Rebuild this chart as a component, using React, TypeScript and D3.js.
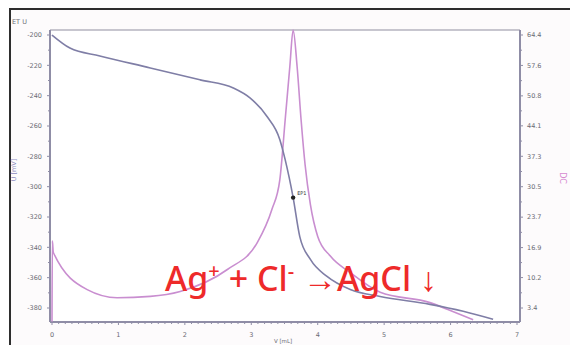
import React, { useEffect, useRef } from 'react';
import * as d3 from 'd3';

// titration volume (mL) vs potential (mV)
const volU = [0, 0.27, 0.72, 1.48, 2.23, 2.73, 2.98, 3.24, 3.43, 3.51, 3.63, 3.73, 3.89, 4.14, 4.49, 4.94, 5.69, 6.19, 6.64];
const potU = [-200, -208.6, -213.8, -221.7, -229.6, -234.9, -241.4, -253.9, -269, -282.2, -307.2, -332.9, -348, -359.2, -367.8, -372.4, -377.6, -382.2, -387.5];

// first derivative curve (DC)
const volDC = [0, 0.005, 0.02, 0.53, 0.98, 1.48, 1.93, 2.64, 3.09, 3.31, 3.43, 3.51, 3.58, 3.63, 3.69, 3.75, 3.81, 3.89, 4.0, 4.19, 4.49, 4.94, 5.69, 5.95, 6.34];
const valDC = [0.4, 18.4, 15.8, 7.5, 5.7, 6.0, 7.1, 12.0, 18.0, 25.4, 32.1, 45.4, 57.3, 65.5, 57.3, 45.4, 35.4, 26.5, 19.4, 15.0, 11.3, 6.9, 4.6, 3.1, 0.8];

const leftTicks = [-200, -220, -240, -260, -280, -300, -320, -340, -360, -380];
const rightTicks = [64.4, 57.6, 50.8, 44.1, 37.3, 30.5, 23.7, 16.9, 10.2, 3.4];
const xTicks = [0, 1, 2, 3, 4, 5, 6, 7];
const endPoint = { vol: 3.63, pot: -307.2, label: 'EP1' };

export default function App() {
  const svgRef = useRef<SVGSVGElement>(null);

  useEffect(() => {
    if (!svgRef.current) return;
    const svg = d3.select(svgRef.current);
    svg.selectAll('*').remove();

    const W = 570, H = 345;
    const left = 50, right = 520, top = 30, bottom = 322;

    const x = d3.scaleLinear().domain([0, 7]).range([52, 517]);
    const yL = d3.scaleLinear().domain([-200, -380]).range([35, 308]);
    const yR = d3.scaleLinear().domain([64.4, 3.4]).range([35, 308]);

    svg.attr('width', W).attr('height', H);

    // outer frame
    svg.append('rect')
      .attr('x', 10).attr('y', 9)
      .attr('width', 600).attr('height', 400)
      .attr('fill', '#fdfbfc')
      .attr('stroke', '#2e2e2e')
      .attr('stroke-width', 2);

    svg.append('rect')
      .attr('x', left).attr('y', top)
      .attr('width', right - left).attr('height', bottom - top)
      .attr('fill', '#ffffff');

    const tickCol = '#8f8da6';
    const labelStyle = (sel: any) => sel
      .attr('font-family', 'DejaVu Sans, sans-serif')
      .attr('font-size', 6.5)
      .attr('fill', '#6b6b74');

    // top frame line
    svg.append('line')
      .attr('x1', left).attr('x2', right)
      .attr('y1', top).attr('y2', top)
      .attr('stroke', '#b4b3bf').attr('stroke-width', 1.5);

    // left axis
    svg.append('line')
      .attr('x1', left).attr('x2', left).attr('y1', top).attr('y2', bottom)
      .attr('stroke', tickCol).attr('stroke-width', 2);
    d3.range(-200, -390, -10).forEach((v) => {
      const major = v % 20 === 0;
      svg.append('line')
        .attr('x1', left - (major ? 3 : 2)).attr('x2', left)
        .attr('y1', yL(v)).attr('y2', yL(v))
        .attr('stroke', tickCol).attr('stroke-width', 1);
    });
    leftTicks.forEach((v) => {
      svg.append('text')
        .attr('x', 42).attr('y', yL(v) + 2.3)
        .attr('text-anchor', 'end')
        .text(String(v))
        .call(labelStyle);
    });

    // right axis
    svg.append('line')
      .attr('x1', right).attr('x2', right).attr('y1', top).attr('y2', bottom)
      .attr('stroke', tickCol).attr('stroke-width', 2);
    rightTicks.forEach((v, i) => {
      svg.append('line')
        .attr('x1', right).attr('x2', right + 3)
        .attr('y1', yR(v)).attr('y2', yR(v))
        .attr('stroke', tickCol).attr('stroke-width', 1);
      if (i < rightTicks.length - 1) {
        const mid = (v + rightTicks[i + 1]) / 2;
        svg.append('line')
          .attr('x1', right).attr('x2', right + 2)
          .attr('y1', yR(mid)).attr('y2', yR(mid))
          .attr('stroke', tickCol).attr('stroke-width', 1);
      }
      svg.append('text')
        .attr('x', 527).attr('y', yR(v) + 2.3)
        .text(v.toFixed(1))
        .call(labelStyle);
    });

    // bottom axis
    svg.append('line')
      .attr('x1', left).attr('x2', right).attr('y1', bottom).attr('y2', bottom)
      .attr('stroke', tickCol).attr('stroke-width', 2);
    d3.range(0, 70.5, 1).forEach((t) => {
      const v = t / 10;
      const major = t % 10 === 0;
      svg.append('line')
        .attr('x1', x(v)).attr('x2', x(v))
        .attr('y1', bottom).attr('y2', bottom + (major ? 3 : 2))
        .attr('stroke', tickCol).attr('stroke-width', 1);
    });
    xTicks.forEach((v) => {
      svg.append('text')
        .attr('x', x(v)).attr('y', 337)
        .attr('text-anchor', 'middle')
        .text(String(v))
        .call(labelStyle);
    });

    // axis titles
    svg.append('text')
      .attr('x', 12).attr('y', 24)
      .text('ET U')
      .call(labelStyle);
    svg.append('text')
      .attr('transform', 'translate(16,170) rotate(-90)')
      .attr('text-anchor', 'middle')
      .text('U [mV]')
      .call(labelStyle)
      .attr('fill', '#8e8cc0');
    svg.append('text')
      .attr('transform', 'translate(560,178) rotate(90)')
      .attr('text-anchor', 'middle')
      .text('DC')
      .call(labelStyle)
      .attr('font-size', 8)
      .attr('fill', '#d68ad0');
    svg.append('text')
      .attr('x', 283).attr('y', 343)
      .attr('text-anchor', 'middle')
      .text('V [mL]')
      .call(labelStyle)
      .attr('font-size', 5.5);

    // curves
    const lineU = d3.line<number>().x((_, i) => x(volU[i])).y((d) => yL(d)).curve(d3.curveMonotoneX);
    const lineDC = d3.line<number>().x((_, i) => x(volDC[i])).y((d) => yR(d)).curve(d3.curveMonotoneX);

    svg.append('path')
      .datum(valDC)
      .attr('d', lineDC)
      .attr('fill', 'none')
      .attr('stroke', '#c98ed0')
      .attr('stroke-width', 1.6);

    svg.append('path')
      .datum(potU)
      .attr('d', lineU)
      .attr('fill', 'none')
      .attr('stroke', '#7f7ea6')
      .attr('stroke-width', 1.6);

    // end point
    svg.append('circle')
      .attr('cx', x(endPoint.vol)).attr('cy', yL(endPoint.pot))
      .attr('r', 2.2).attr('fill', '#222');
    svg.append('text')
      .attr('x', x(endPoint.vol) + 4).attr('y', yL(endPoint.pot) - 3)
      .text(endPoint.label)
      .call(labelStyle)
      .attr('font-size', 5)
      .attr('fill', '#333');

    // reaction equation
    const eq = svg.append('text')
      .attr('x', 165).attr('y', 291)
      .attr('font-family', 'Noto Sans, Open Sans, sans-serif')
      .attr('font-size', 34)
      .attr('font-weight', 500)
      .attr('fill', '#ee2a2a');
    eq.append('tspan').text('Ag');
    eq.append('tspan').text('+').attr('font-size', 20).attr('dy', -13);
    eq.append('tspan').text(' + Cl').attr('dy', 13);
    eq.append('tspan').text('-').attr('font-size', 20).attr('dy', -13);
    eq.append('tspan').text(' \u2192AgCl \u2193').attr('dy', 13);
  }, []);

  return (
    <svg ref={svgRef} style={{ position: 'absolute', left: 0, top: 0, background: '#fff' }} />
  );
}
